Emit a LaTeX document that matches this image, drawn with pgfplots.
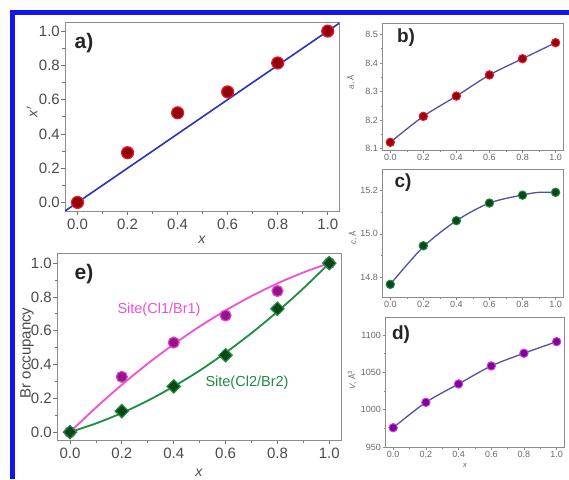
\documentclass[border=0pt]{standalone}
\usepackage{pgfplots}
\pgfplotsset{compat=1.18}
\usepackage{fontspec}
\setmainfont{Liberation Sans}
\definecolor{frameblue}{RGB}{20,20,240}
\definecolor{axgray}{RGB}{140,140,140}
\definecolor{bigtick}{RGB}{75,75,75}
\definecolor{smalltick}{RGB}{105,105,105}
\definecolor{redfill}{RGB}{150,0,10}
\definecolor{reddraw}{RGB}{225,30,45}
\definecolor{fitblue}{RGB}{40,50,190}
\definecolor{fitslate}{RGB}{80,80,165}
\definecolor{grnfill}{RGB}{10,70,25}
\definecolor{grndraw}{RGB}{30,140,55}
\definecolor{magfill}{RGB}{150,20,135}
\definecolor{magdraw}{RGB}{225,70,205}
\definecolor{magline}{RGB}{240,80,210}
\definecolor{grnline}{RGB}{30,140,65}
\definecolor{purfill}{RGB}{120,0,150}
\definecolor{purdraw}{RGB}{215,60,220}
\pgfplotsset{
  common/.style={scale only axis, axis line style={draw=axgray, line width=0.8pt},
    tick align=outside, xtick pos=bottom, ytick pos=left,
    minor x tick num=1, minor y tick num=1,
    xmin=-0.05, xmax=1.045,
    xtick={0,0.2,0.4,0.6,0.8,1}, xticklabels={0.0,0.2,0.4,0.6,0.8,1.0}},
  big/.style={common, tick style={draw=black!55, line width=0.7pt},
    major tick length=4pt, minor tick length=2.5pt,
    tick label style={font=\fontsize{15}{17}\selectfont, text=bigtick},
    yticklabel style={inner sep=1pt},
    ytick={0,0.2,0.4,0.6,0.8,1}, yticklabels={0.0,0.2,0.4,0.6,0.8,1.0}},
  small/.style={common, tick style={draw=black!45, line width=0.5pt},
    major tick length=2.5pt, minor tick length=1.5pt,
    tick label style={font=\fontsize{9}{10}\selectfont, text=smalltick, inner sep=1.5pt}},
}
\begin{document}
\begin{tikzpicture}
\fill[white] (0pt,0pt) rectangle (569pt,-479pt);
\useasboundingbox (0pt,0pt) rectangle (569pt,-479pt);
\fill[frameblue] (10pt,-9.5pt) rectangle (569pt,-14.5pt);
\fill[frameblue] (10pt,-9.5pt) rectangle (14.5pt,-479pt);

% panel a
\begin{axis}[big, at={(65pt,-211pt)}, anchor=south west, width=274pt, height=189pt,
  ymin=-0.05, ymax=1.053]
\addplot[fitblue, line width=1.6pt] coordinates {(-0.05,-0.05) (1.05,1.05)};
\addplot[only marks, mark=*, mark size=6pt, mark options={fill=redfill, draw=reddraw, line width=1.2pt}]
  coordinates {(0,0) (0.2,0.29) (0.4,0.523) (0.6,0.645) (0.8,0.814) (1.0,1.0)};
\end{axis}

% panel e
\begin{axis}[big, at={(57pt,-440pt)}, anchor=south west, width=284pt, height=187pt,
  ymin=-0.047, ymax=1.06]
\addplot[magline, line width=1.8pt, smooth] coordinates {(0,0) (0.1,0.145) (0.2,0.28) (0.3,0.405) (0.4,0.52) (0.5,0.625) (0.6,0.72) (0.7,0.805) (0.8,0.88) (0.9,0.945) (1.0,1.0)};
\addplot[grnline, line width=1.8pt, smooth] coordinates {(0,0) (0.1,0.051) (0.2,0.113) (0.3,0.186) (0.4,0.27) (0.5,0.364) (0.6,0.47) (0.7,0.586) (0.8,0.713) (0.9,0.851) (1.0,1.0)};
\addplot[only marks, mark=*, mark size=5.5pt, mark options={fill=magfill, draw=magdraw, line width=1.2pt}]
  coordinates {(0,0) (0.2,0.327) (0.4,0.53) (0.6,0.69) (0.8,0.835) (1.0,1.0)};
\addplot[only marks, mark=square*, mark size=4.7pt, mark options={rotate=45, fill=grnfill, draw=grndraw, line width=1.2pt}]
  coordinates {(0,0) (0.2,0.124) (0.4,0.27) (0.6,0.455) (0.8,0.73) (1.0,1.0)};
\end{axis}

% panel b
\begin{axis}[small, at={(382pt,-150pt)}, anchor=south west, width=181pt, height=127pt,
  ymin=8.095, ymax=8.54, ytick={8.1,8.2,8.3,8.4,8.5}, yticklabels={8.1,8.2,8.3,8.4,8.5}]
\addplot[fitslate, line width=1.3pt, smooth] coordinates {(0,8.122) (0.2,8.213) (0.4,8.284) (0.6,8.358) (0.8,8.415) (1.0,8.471)};
\addplot[only marks, mark=*, mark size=4.2pt, mark options={fill=redfill, draw=reddraw, line width=1pt}]
  coordinates {(0,8.122) (0.2,8.213) (0.4,8.284) (0.6,8.358) (0.8,8.415) (1.0,8.471)};
\end{axis}

% panel c
\begin{axis}[small, at={(382pt,-297pt)}, anchor=south west, width=181pt, height=128pt,
  ymin=14.71, ymax=15.297, ytick={14.8,15.0,15.2}, yticklabels={14.8,15.0,15.2}]
\addplot[fitslate, line width=1.3pt, smooth] coordinates {(0,14.768) (0.2,14.94) (0.4,15.06) (0.6,15.141) (0.8,15.178) (0.9,15.19) (1.0,15.19)};
\addplot[only marks, mark=*, mark size=4.2pt, mark options={fill=grnfill, draw=grndraw, line width=1pt}]
  coordinates {(0,14.768) (0.2,14.945) (0.4,15.06) (0.6,15.141) (0.8,15.177) (1.0,15.19)};
\end{axis}

% panel d
\begin{axis}[small, at={(385pt,-447pt)}, anchor=south west, width=179pt, height=130pt,
  ymin=950, ymax=1124, ytick={950,1000,1050,1100}, yticklabels={950,1000,1050,1100}]
\addplot[fitslate, line width=1.3pt, smooth] coordinates {(0,975.8) (0.2,1009.8) (0.4,1034.4) (0.6,1058.5) (0.8,1075.5) (1.0,1091)};
\addplot[only marks, mark=*, mark size=4.2pt, mark options={fill=purfill, draw=purdraw, line width=1pt}]
  coordinates {(0,975.8) (0.2,1009.8) (0.4,1034.4) (0.6,1058.5) (0.8,1075.5) (1.0,1091)};
\end{axis}

% panel letters
\node[font=\fontsize{21}{24}\selectfont\bfseries, text=black!85] at (84pt,-43pt) {a)};
\node[font=\fontsize{21}{24}\selectfont\bfseries, text=black!85] at (84pt,-274pt) {e)};
\node[font=\fontsize{19}{22}\selectfont\bfseries, text=black!85] at (406pt,-38pt) {b)};
\node[font=\fontsize{19}{22}\selectfont\bfseries, text=black!85] at (403pt,-183pt) {c)};
\node[font=\fontsize{19}{22}\selectfont\bfseries, text=black!85] at (401pt,-335pt) {d)};

% axis labels
\node[font=\fontsize{14}{16}\selectfont, text=bigtick] at (202pt,-240pt) {\textit{x}};
\node[font=\fontsize{14}{16}\selectfont, text=bigtick, rotate=90] at (32pt,-112pt) {\textit{x}$'$};
\node[font=\fontsize{14}{16}\selectfont, text=bigtick] at (199pt,-473pt) {\textit{x}};
\node[font=\fontsize{15}{18}\selectfont, text=bigtick, rotate=90] at (27pt,-353pt) {Br occupancy};
\node[font=\fontsize{8}{10}\selectfont, text=smalltick, rotate=90] at (351pt,-82pt) {\textit{a}, Å};
\node[font=\fontsize{8}{10}\selectfont, text=smalltick, rotate=90] at (353pt,-238pt) {\textit{c}, Å};
\node[font=\fontsize{8}{10}\selectfont, text=smalltick, rotate=90] at (352pt,-380pt) {\textit{V}, Å\textsuperscript{3}};
\node[font=\fontsize{8}{10}\selectfont, text=smalltick] at (465pt,-465pt) {\textit{x}};

% series labels
\node[font=\fontsize{14.5}{17}\selectfont, text=magline] at (159pt,-310pt) {Site(Cl1/Br1)};
\node[font=\fontsize{14.5}{17}\selectfont, text=grnline] at (247pt,-383pt) {Site(Cl2/Br2)};
\end{tikzpicture}
\end{document}
